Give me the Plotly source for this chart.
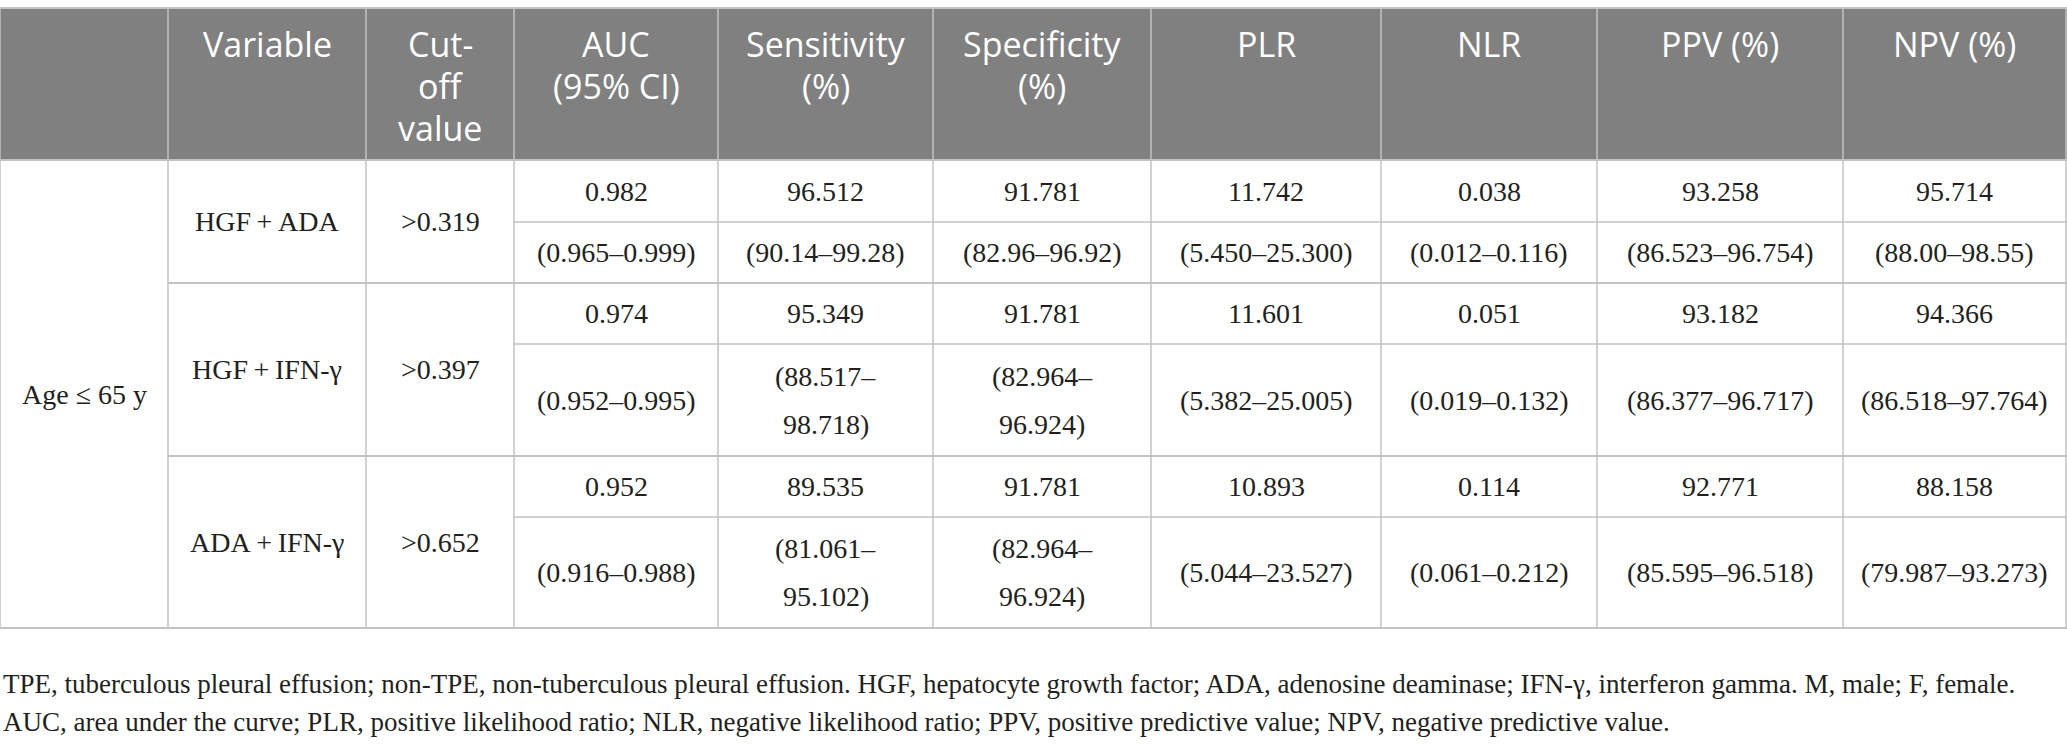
import plotly.graph_objects as go

# table contents
headers = ["", "Variable", "Cut-<br>off<br>value", "AUC<br>(95% CI)", "Sensitivity<br>(%)",
           "Specificity<br>(%)", "PLR", "NLR", "PPV (%)", "NPV (%)"]
group_label = "Age ≤ 65 y"
variables = ["HGF\u2009+\u2009ADA", "HGF\u2009+\u2009IFN-γ", "ADA\u2009+\u2009IFN-γ"]
cutoffs = [">0.319", ">0.397", ">0.652"]

auc = ["0.982", "0.974", "0.952"]
auc_ci = ["(0.965–0.999)", "(0.952–0.995)", "(0.916–0.988)"]
sens = ["96.512", "95.349", "89.535"]
sens_ci = ["(90.14–99.28)", "(88.517–<br>98.718)", "(81.061–<br>95.102)"]
spec = ["91.781", "91.781", "91.781"]
spec_ci = ["(82.96–96.92)", "(82.964–<br>96.924)", "(82.964–<br>96.924)"]
plr = ["11.742", "11.601", "10.893"]
plr_ci = ["(5.450–25.300)", "(5.382–25.005)", "(5.044–23.527)"]
nlr = ["0.038", "0.051", "0.114"]
nlr_ci = ["(0.012–0.116)", "(0.019–0.132)", "(0.061–0.212)"]
ppv = ["93.258", "93.182", "92.771"]
ppv_ci = ["(86.523–96.754)", "(86.377–96.717)", "(85.595–96.518)"]
npv = ["95.714", "94.366", "88.158"]
npv_ci = ["(88.00–98.55)", "(86.518–97.764)", "(79.987–93.273)"]

footnotes = [
    "TPE, tuberculous pleural effusion; non-TPE, non-tuberculous pleural effusion. HGF, hepatocyte growth factor; "
    "ADA, adenosine deaminase; IFN-γ, interferon gamma. M, male; F, female.",
    "AUC, area under the curve; PLR, positive likelihood ratio; NLR, negative likelihood ratio; "
    "PPV, positive predictive value; NPV, negative predictive value.",
]

# layout geometry (pixels)
W, H = 2067, 747
col_edges = [0, 168, 366, 514, 718, 933, 1151, 1381, 1597, 1843, W - 1]
top, head_bot = 8, 160
# each group: estimate row top, ci row top, group bottom
groups_y = [(160, 222, 283), (283, 344, 456), (456, 517, 628)]

head_color = "#808080"
line_color = "#c2c2c2"
text_color = "#231f20"
serif = "Liberation Serif"
sans = "Open Sans"

fig = go.Figure()
shapes = []
annotations = []


def add_text(x, y, text, size, color, family, leading, xanchor="center", valign="middle"):
    # one annotation per line so the line spacing can be set freely
    lines = text.split("<br>")
    n = len(lines)
    for i, ln in enumerate(lines):
        if valign == "middle":
            yy = y + (i - (n - 1) / 2) * leading
        else:
            yy = y + i * leading
        annotations.append(dict(x=x, y=yy, xref="x", yref="y", text=ln,
                                showarrow=False, xanchor=xanchor, yanchor="middle",
                                font=dict(family=family, size=size, color=color)))


# header band
shapes.append(dict(type="rect", x0=0, x1=W, y0=top, y1=head_bot, fillcolor=head_color,
                   line=dict(width=0), layer="below"))

# header labels
for i, h in enumerate(headers):
    if not h:
        continue
    cx = (col_edges[i] + col_edges[i + 1]) / 2
    add_text(cx, 44, h, 34, "white", sans, 42, valign="top")

# body
value_cols = [(auc, auc_ci), (sens, sens_ci), (spec, spec_ci), (plr, plr_ci),
              (nlr, nlr_ci), (ppv, ppv_ci), (npv, npv_ci)]
body_size = 28
for g, (y0, y1, y2) in enumerate(groups_y):
    add_text((col_edges[1] + col_edges[2]) / 2, (y0 + y2) / 2, variables[g], body_size, text_color, serif, 48)
    add_text((col_edges[2] + col_edges[3]) / 2, (y0 + y2) / 2, cutoffs[g], body_size, text_color, serif, 48)
    for k, (est, ci) in enumerate(value_cols):
        cx = (col_edges[k + 3] + col_edges[k + 4]) / 2
        add_text(cx, (y0 + y1) / 2, est[g], body_size, text_color, serif, 48)
        add_text(cx, (y1 + y2) / 2, ci[g], body_size, text_color, serif, 48)

add_text((col_edges[0] + col_edges[1]) / 2, (head_bot + groups_y[-1][2]) / 2, group_label,
         body_size, text_color, serif, 48)

# grid lines
bottom = groups_y[-1][2]
for yy in [top, head_bot, bottom]:
    shapes.append(dict(type="line", x0=0, x1=W, y0=yy, y1=yy, line=dict(color=line_color, width=2)))
for (y0, y1, y2) in groups_y[:-1]:
    shapes.append(dict(type="line", x0=col_edges[1], x1=W, y0=y2, y1=y2, line=dict(color=line_color, width=2)))
for (y0, y1, y2) in groups_y:
    shapes.append(dict(type="line", x0=col_edges[3], x1=W, y0=y1, y1=y1, line=dict(color=line_color, width=1.5)))
for xx in col_edges:
    shapes.append(dict(type="line", x0=xx, x1=xx, y0=top, y1=bottom, line=dict(color=line_color, width=1.5)))

# footnotes
for i, fn in enumerate(footnotes):
    add_text(1, 684 + i * 38, fn, 27, text_color, serif, 38, xanchor="left")

fig.update_layout(
    width=W, height=H,
    margin=dict(l=0, r=0, t=0, b=0),
    paper_bgcolor="white", plot_bgcolor="white",
    xaxis=dict(range=[0, W], visible=False, fixedrange=True),
    yaxis=dict(range=[H, 0], visible=False, fixedrange=True),
    shapes=shapes, annotations=annotations, showlegend=False,
)

fig.write_html("out.html", config={"displayModeBar": False},
               post_script="document.body.style.margin='0';")
